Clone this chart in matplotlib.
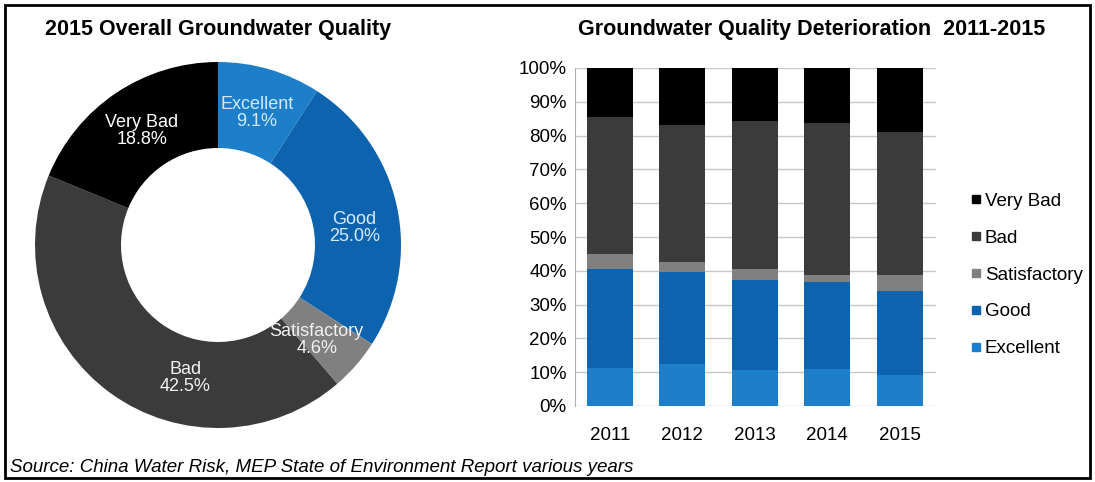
import numpy as np
import matplotlib
matplotlib.use("Agg")
import matplotlib.pyplot as plt
from matplotlib.lines import Line2D
from matplotlib.patches import Rectangle

# 数据
categories = ["Excellent", "Good", "Satisfactory", "Bad", "Very Bad"]
pie_values = [9.1, 25.0, 4.6, 42.5, 18.8]

years = ["2011", "2012", "2013", "2014", "2015"]
excellent = [11.2, 12.4, 10.7, 10.9, 9.1]
good = [29.4, 27.1, 26.6, 25.9, 25.0]
satisfactory = [4.3, 3.2, 3.2, 2.0, 4.6]
bad = [40.5, 40.5, 43.9, 44.9, 42.5]
very_bad = [14.6, 16.8, 15.6, 16.3, 18.8]

colors = ["#1d7fc9", "#0e63af", "#808080", "#3b3b3b", "#000000"]
label_colors = ["#cfe9ff", "#d6ecff", "#f2f2f2", "#f2f2f2", "#ffffff"]

W, H = 1095, 482
fig = plt.figure(figsize=(W / 100, H / 100), dpi=100)
plt.rcParams["font.family"] = ["Liberation Sans", "DejaVu Sans"]


def px_axes(x0, y0, x1, y1):
    # 像素坐标 -> figure 坐标
    return fig.add_axes([x0 / W, 1 - y1 / H, (x1 - x0) / W, (y1 - y0) / H])


# 外框
fig.patches.append(Rectangle((5 / W, 4 / H), 1085 / W, 473 / H, transform=fig.transFigure,
                             fill=False, edgecolor="black", linewidth=2))

# 环形图
cx, cy, r = 218, 245, 183
ax1 = px_axes(cx - r, cy - r, cx + r, cy + r)
wedges, _ = ax1.pie(pie_values, colors=colors, startangle=90, counterclock=False,
                    radius=1.0, wedgeprops=dict(width=0.47, linewidth=0))
ax1.set_xlim(-1, 1)
ax1.set_ylim(-1, 1)
ax1.set_aspect("equal")
nudge = {"Bad": 22, "Good": -5, "Satisfactory": -3}
for w, name, val, lc in zip(wedges, categories, pie_values, label_colors):
    ang = np.deg2rad((w.theta1 + w.theta2) / 2 + nudge.get(name, 0))
    rr = 0.75
    ax1.text(rr * np.cos(ang), rr * np.sin(ang), f"{name}\n{val:.1f}%",
             ha="center", va="center", color=lc, fontsize=13, linespacing=1.0)

fig.text(45 / W, 1 - 30 / H, "2015 Overall Groundwater Quality", fontsize=15.5,
         fontweight="bold", ha="left", va="center")

# 堆叠柱状图
ax2 = px_axes(575, 68, 936, 406)
x = np.arange(len(years))
series = [excellent, good, satisfactory, bad, very_bad]
bottom = np.zeros(len(years))
for vals, c, name in zip(series, colors, categories):
    ax2.bar(x, vals, bottom=bottom, width=0.64, color=c, label=name, zorder=3)
    bottom += np.array(vals)

ax2.set_xlim(-0.48, 4.5)
ax2.set_ylim(0, 100)
ax2.set_yticks(np.arange(0, 101, 10))
ax2.set_yticklabels([f"{v}%" for v in range(0, 101, 10)], fontsize=13.5)
ax2.set_xticks(x)
ax2.set_xticklabels(years, fontsize=13.5)
ax2.tick_params(axis="y", length=0, pad=6)
ax2.tick_params(axis="x", length=0, pad=15)
ax2.grid(axis="y", color="#c8c8c8", linewidth=1, zorder=0)
for s in ["top", "right", "bottom"]:
    ax2.spines[s].set_visible(False)
ax2.spines["left"].set_color("#b0b0b0")

handles = [Line2D([], [], marker="s", linestyle="none", markersize=6, color=c)
           for c in colors]
leg = ax2.legend(handles[::-1], categories[::-1], loc="upper left",
                 bbox_to_anchor=(953 / W, 1 - 176 / H), bbox_transform=fig.transFigure,
                 frameon=False, fontsize=13.5, handlelength=0.6, handletextpad=0.2,
                 labelspacing=1.05)

fig.text(1045 / W, 1 - 30 / H, "Groundwater Quality Deterioration  2011-2015",
         fontsize=15.5, fontweight="bold", ha="right", va="center")

fig.text(10 / W, 1 - 467 / H,
         "Source: China Water Risk, MEP State of Environment Report various years",
         fontsize=13.5, fontstyle="italic", ha="left", va="center")

fig.savefig("out.png", dpi=100)
